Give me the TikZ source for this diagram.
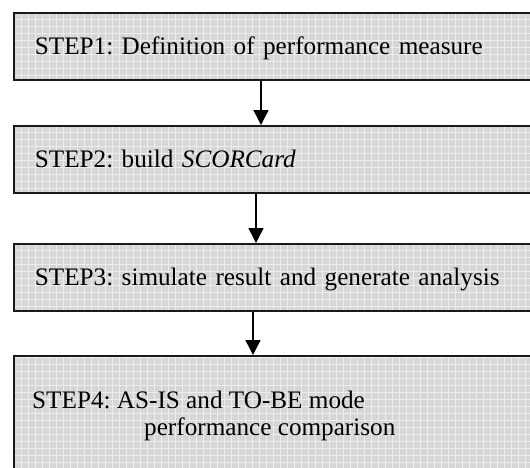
\documentclass[tikz,border=0pt]{standalone}
\usepackage{fontspec}
\setmainfont{Liberation Serif}
\frenchspacing
\usetikzlibrary{arrows.meta}
\tikzset{
    stepbox/.style={shape=rectangle, draw=black!90, line width=1.8pt, fill=black!16,
        anchor=north west, minimum width=540pt, minimum height=67pt,
        inner xsep=21pt, text width=498pt, align=left,
        text height=16pt, text depth=0pt,
        font=\fontsize{25.2}{27}\selectfont,
        path picture={\draw[black!7, line width=0.7pt, step=7pt]
            (path picture bounding box.south west) grid (path picture bounding box.north east);}},
    flow/.style={line width=1.4pt, -{Triangle[width=15pt,length=15pt]}}}

\begin{document}
\begin{tikzpicture}[x=1pt, y=-1pt]

                    \useasboundingbox (0,0) rectangle (530,467);
                    \clip (0,0) rectangle (530,467);

                    \node[stepbox] (box1) at (13,12) {STEP1: Definition of performance measure};
                    \node[stepbox] (box2) at (13,125) {STEP2: build \textit{SCORCard}};
                    \node[stepbox] (box3) at (13,243) {STEP3: simulate result and generate analysis};
                    \node[stepbox, minimum height=140pt] (box4) at (13,355) {};
                    \node[anchor=north west, inner sep=0pt, align=left,
                          font=\fontsize{25.2}{27}\selectfont] (step4) at (32,391)
                        {STEP4: AS-IS and TO-BE mode\\\hspace*{112pt}performance comparison};

                    \coordinate (a1) at (261,0);
                    \coordinate (a2) at (256,0);
                    \coordinate (a3) at (253,0);

                    \draw[flow] (box1.south -| a1) -- (box2.north -| a1);
                    \draw[flow] (box2.south -| a2) -- (box3.north -| a2);
                    \draw[flow] (box3.south -| a3) -- (box4.north -| a3);

                \end{tikzpicture}
\end{document}
